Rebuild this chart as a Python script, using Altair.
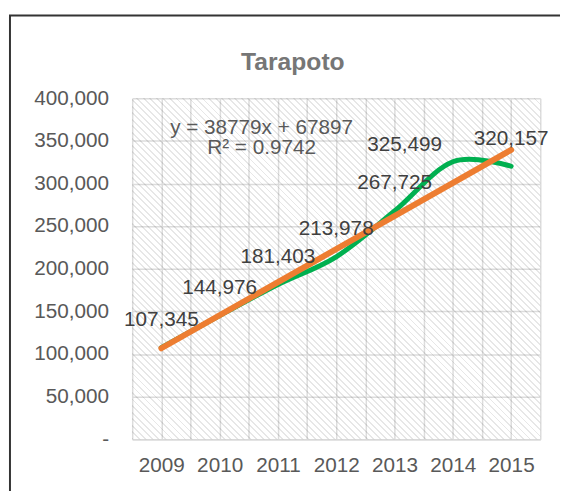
import altair as alt
import numpy as np
import pandas as pd

# ---- data ----
years = [2009, 2010, 2011, 2012, 2013, 2014, 2015]
population = [107345, 144976, 181403, 213978, 267725, 325499, 320157]
y_ticks = [0, 50000, 100000, 150000, 200000, 250000, 300000, 350000, 400000]
x_grid = [2008.5, 2009, 2009.5, 2010, 2010.5, 2011, 2011.5, 2012, 2012.5,
          2013, 2013.5, 2014, 2014.5, 2015, 2015.5]
title_text = "Tarapoto"

df = pd.DataFrame({"Year": years, "Pop": population})

# Trendline equation (Excel style, x = 1..n)
idx = np.arange(1, len(population) + 1)
pop = np.array(population, dtype=float)
slope, intercept = np.polyfit(idx, pop, 1)
pred = slope * idx + intercept
r2 = 1 - np.sum((pop - pred) ** 2) / np.sum((pop - pop.mean()) ** 2)
eq_text = f"y = {slope:.0f}x + {intercept:.0f}\nR² = {r2:.4f}"

FONT = "Liberation Sans"
W, H = 414, 346

# diagonal hatch for the plot area background
ratio = H / W
k = 1.08
periods = 115
stops = []
for i in range(periods):
    a = i / periods
    b = (i + 0.3) / periods
    c = (i + 1) / periods
    stops += [
        alt.GradientStop(offset=a, color="rgba(0,0,0,0.095)"),
        alt.GradientStop(offset=b, color="rgba(0,0,0,0.095)"),
        alt.GradientStop(offset=b, color="rgba(0,0,0,0)"),
        alt.GradientStop(offset=c, color="rgba(0,0,0,0)"),
    ]
hatch_grad = alt.LinearGradient(gradient="linear", stops=stops,
                                x1=0, y1=1, x2=k, y2=1 - ratio * k)

x_scale = alt.Scale(domain=[2008.5, 2015.5], nice=False, zero=False)
y_scale = alt.Scale(domain=[0, 400000], nice=False, zero=True)

x_axis = alt.Axis(values=x_grid,
                  labelExpr="datum.value % 1 === 0 ? format(datum.value, 'd') : ''",
                  title=None, grid=True, ticks=False, tickSize=0,
                  labelPadding=16, labelFontSize=21, labelColor="#595959",
                  labelFont=FONT, domainColor="#d9d9d9", domainWidth=1.5,
                  gridColor="#dcdcdc", gridWidth=1.5, labelOverlap=False,
                  labelFlush=False)
y_axis = alt.Axis(values=y_ticks,
                  labelExpr="datum.value === 0 ? '-\u00a0\u00a0\u00a0' : format(datum.value, ',')",
                  title=None, grid=True, ticks=False, tickSize=0, domain=False,
                  labelPadding=24, labelFontSize=21, labelColor="#595959",
                  labelFont=FONT, gridColor="#dcdcdc", gridWidth=1.5,
                  labelOverlap=False)

x_enc = alt.X("Year:Q", scale=x_scale, axis=x_axis)
y_enc = alt.Y("Pop:Q", scale=y_scale, axis=y_axis)

one = alt.Data(values=[{}])

border = alt.Chart(one).mark_rect(fillOpacity=0, stroke="#333333", strokeWidth=2).encode(
    x=alt.value(-124), x2=alt.value(470), y=alt.value(-84), y2=alt.value(440))

hatch = alt.Chart(one).mark_rect(fill=hatch_grad).encode(
    x=alt.value(0), x2=alt.value("width"), y=alt.value(0), y2=alt.value("height"))

base = alt.Chart(df)

line = base.mark_line(color="#00b050", strokeWidth=5, interpolate="cardinal",
                      strokeCap="round", strokeJoin="round").encode(x=x_enc, y=y_enc)

trend = base.transform_regression("Year", "Pop").mark_line(
    color="#ed7d31", strokeWidth=6, strokeCap="round").encode(x=x_enc, y=y_enc)

labels = base.transform_filter("datum.Year != 2014").mark_text(
    dy=-28, fontSize=21, color="#404040", font=FONT).encode(
    x=x_enc, y=y_enc, text=alt.Text("Pop:Q", format=","))

label14 = base.transform_filter("datum.Year == 2014").mark_text(
    dx=-49, dy=-17, fontSize=21, color="#404040", font=FONT).encode(
    x=x_enc, y=y_enc, text=alt.Text("Pop:Q", format=","))

eq = alt.Chart(one).mark_text(fontSize=21, color="#595959", font=FONT,
                              baseline="top", align="center", lineBreak="\n",
                              lineHeight=21).encode(
    x=alt.datum(2010.72, scale=x_scale, axis=x_axis),
    y=alt.datum(378000, scale=y_scale, axis=y_axis),
    text=alt.value(eq_text))

chart = alt.layer(border, hatch, line, trend, labels, label14, eq).properties(
    width=W, height=H,
    title=alt.TitleParams(text=title_text, font=FONT, fontSize=25,
                          fontWeight="bold", color="#767676", anchor="middle",
                          frame="group", dx=-44, offset=-61),
    autosize=alt.AutoSizeParams(type="none"),
    padding={"left": 126, "top": 88, "right": 20, "bottom": 49},
    background="white",
).configure_view(stroke="transparent", fill="white")

chart.save("out.html", embed_options={"renderer": "svg", "actions": False})
